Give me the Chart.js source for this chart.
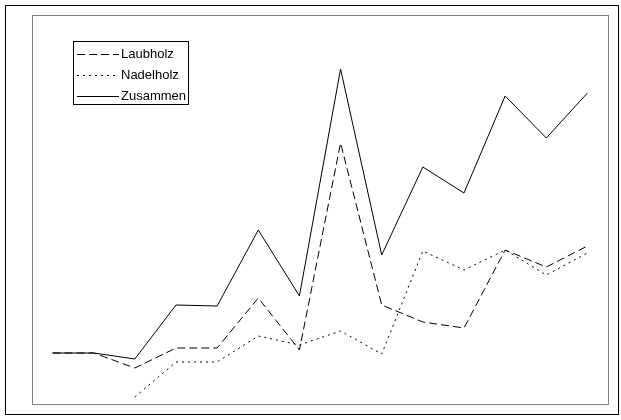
<!DOCTYPE html>
<html>
<head>
<meta charset="utf-8">
<script src="https://cdn.jsdelivr.net/npm/chart.js@4/dist/chart.umd.min.js"></script>
<style>
html,body{margin:0;padding:0;background:#fff;}
canvas{display:block;}
</style>
</head>
<body>
<canvas id="c" width="621" height="420"></canvas>
<script>
const categories = ['1','2','3','4','5','6','7','8','9','10','11','12','13','14'];
const laubholz   = [51, 51, 36, 56, 56, 106, 54, 261, 99, 82, 76, 154, 137, 158];
const nadelholz  = [null, null, 7, 42, 42, 68, 59, 73, 50, 153, 134, 154, 129, 151];
const zusammen   = [51, 51, 45, 99, 98, 174, 108, 335, 149, 237, 211, 308, 266, 311];
const seriesNames = ['Laubholz', 'Nadelholz', 'Zusammen'];
const yMin = 0, yMax = 389;

const framePlugin = {
  id: 'frame',
  beforeDraw(chart) {
    const ctx = chart.ctx, a = chart.chartArea;
    ctx.save();
    ctx.fillStyle = '#fff';
    ctx.fillRect(0, 0, chart.width, chart.height);
    ctx.lineWidth = 1;
    ctx.strokeStyle = '#000';
    ctx.strokeRect(5.5, 5.5, 613, 409);
    ctx.strokeStyle = '#808080';
    ctx.strokeRect(a.left + 0.5, a.top + 0.5, a.right - a.left, a.bottom - a.top);
    ctx.restore();
  },
  afterDraw(chart) {
    const ctx = chart.ctx;
    ctx.save();
    ctx.lineWidth = 1;
    ctx.strokeStyle = '#000';
    ctx.fillStyle = '#fff';
    ctx.fillRect(73, 41, 115, 64);
    ctx.strokeRect(73.5, 41.5, 115, 63);
    ctx.font = '13px "Liberation Sans", Arial, sans-serif';
    ctx.textBaseline = 'middle';
    ctx.fillStyle = '#000';
    chart.data.datasets.forEach((ds, i) => {
      const y = 54.5 + i * 21;
      ctx.setLineDash(ds.borderDash || []);
      ctx.beginPath();
      ctx.moveTo(77, y);
      ctx.lineTo(119, y);
      ctx.stroke();
      ctx.setLineDash([]);
      ctx.fillText(ds.label, 121, y);
    });
    ctx.restore();
  }
};

new Chart(document.getElementById('c'), {
  type: 'line',
  data: {
    labels: categories,
    datasets: [
      { label: seriesNames[0], data: laubholz, borderColor: '#000', borderWidth: 1, borderDash: [8, 4], pointRadius: 0, tension: 0, fill: false },
      { label: seriesNames[1], data: nadelholz, borderColor: '#000', borderWidth: 1, borderDash: [2, 4], pointRadius: 0, tension: 0, fill: false },
      { label: seriesNames[2], data: zusammen, borderColor: '#000', borderWidth: 1, pointRadius: 0, tension: 0, fill: false }
    ]
  },
  options: {
    responsive: false,
    animation: false,
    layout: { padding: { left: 32, top: 15, right: 13, bottom: 16 } },
    plugins: { legend: { display: false }, tooltip: { enabled: false } },
    scales: {
      x: { display: false, offset: true },
      y: { display: false, min: yMin, max: yMax }
    }
  },
  plugins: [framePlugin]
});
</script>
</body>
</html>
